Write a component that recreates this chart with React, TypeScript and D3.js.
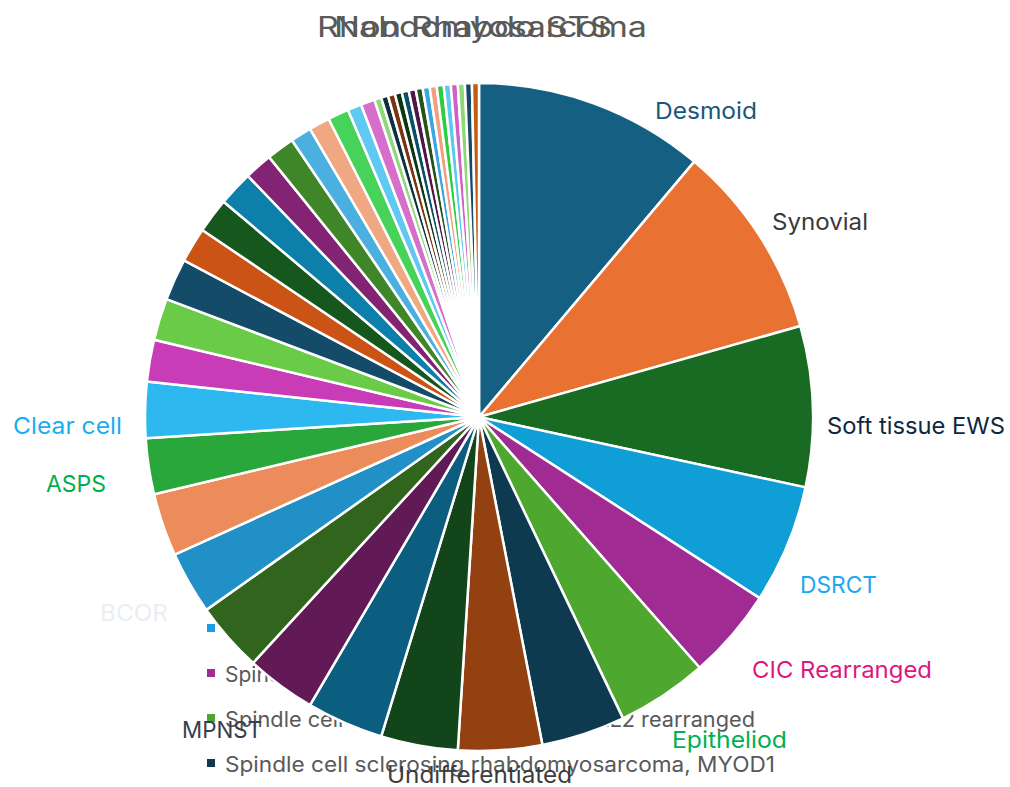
import React from 'react';
import * as d3 from 'd3';

// ---- data ----
const categories = [
  'Desmoid', 'Synovial', 'Soft tissue EWS', 'DSRCT', 'CIC Rearranged', 'Epitheliod',
  'Type 7', 'Undifferentiated', 'Type 9', 'MPNST', 'Type 11', 'Type 12',
  'BCOR', 'Type 14', 'ASPS', 'Clear cell', 'Type 17', 'Type 18',
  'Type 19', 'Type 20', 'Type 21', 'Type 22', 'Type 23', 'Type 24',
  'Type 25', 'Type 26', 'Type 27', 'Type 28', 'Type 29', 'Type 30',
  'Type 31', 'Type 32', 'Type 33', 'Type 34', 'Type 35', 'Type 36',
  'Type 37', 'Type 38', 'Type 39', 'Type 40', 'Type 41', 'Type 42',
  'Type 43', 'Type 44',
];
const values = [
  33, 28, 23, 17, 13, 13,
  12, 12, 11, 11, 10, 10,
  9, 9, 8, 8, 6, 6,
  6, 5, 5, 5, 4, 4,
  3, 3, 3, 2, 2, 1,
  1, 1, 1, 1, 1, 1,
  1, 1, 1, 1, 1, 1,
  1, 1,
];
const sliceColors = [
  '#156082', '#E97132', '#196B24', '#0F9ED5', '#A02B93', '#4EA72E',
  '#0E3A50', '#944112', '#12461A', '#0B5E80', '#611A56', '#31651D',
  '#2190C6', '#EC8C5A', '#2AA73A', '#2DB9EF', '#C83CB8', '#6ACB48',
  '#134B68', '#CC5316', '#16571E', '#0C7FAA', '#822374', '#3E8627',
  '#4BB0E0', '#F0A882', '#47D35A', '#5FC8F3', '#D56FCB', '#8FD87A',
  '#0B3041', '#7A3510', '#0D3612', '#084F6A', '#501649', '#27531A',
  '#3AA5E0', '#F0A080', '#2ECC40', '#5EC8F0', '#D060C8', '#8FD87A',
  '#164A66', '#C55A11',
];

const labelTexts = [
  'Desmoid', 'Synovial', 'Soft tissue EWS', 'DSRCT', 'CIC Rearranged', 'Epitheliod',
  'Undifferentiated', 'MPNST', 'BCOR', 'ASPS', 'Clear cell',
];
const labelColors = [
  '#17587C', '#3A3A3A', '#0E2841', '#1CA8F0', '#E0157F', '#00B050',
  '#3C3C3C', '#33404E', '#E9EEF2', '#00B050', '#1AADF0',
];

const legendNames = [
  'Spindle cell rhabdomyosarcoma',
  'Spindle cell rhabdomyosarcoma, NOS',
  'Spindle cell rhabdomyosarcoma, VGLL2 rearranged',
  'Spindle cell sclerosing rhabdomyosarcoma, MYOD1',
];
const legendColors = ['#1AA0E0', '#A02B93', '#4EA72E', '#0E3A50'];

const titles = ['Rhabdomyosarcoma', 'Non Rhabdo STS'];

// ---- layout ----
const W = 1010;
const H = 787;
const CX = 479;
const CY = 417;
const R = 334;
const FONT = 'Inter, "Open Sans", sans-serif';

// label placement: [x, baseline, width]
const labelLayout: [number, number, number][] = [
  [655, 119, 102], [772, 230, 96], [827, 434, 178], [800, 593, 77],
  [752, 678, 180], [672, 748, 115], [387, 783, 185], [182, 738, 80],
  [100, 621, 68], [46, 492, 60], [13, 434, 109],
];
const legendLayout: [number, number, number | null][] = [
  [225, 637, null], [225, 682, null], [225, 727, 530], [225, 772, 550],
];
const titleLayout: [number, number, number][] = [
  [317, 37, 330], [334, 37, 278],
];

export default function App() {
  const pie = d3.pie<number>().sort(null).value((d) => d);
  const arcs = pie(values);
  const arc = d3.arc<d3.PieArcDatum<number>>().innerRadius(0).outerRadius(R);

  return (
    <svg
      width={W}
      height={H}
      style={{ position: 'absolute', left: 0, top: 0, background: '#fff' }}
      fontFamily={FONT}
    >
      <rect width={W} height={H} fill="#fff" />
      {/* legend (behind the pie) */}
      <g>
        {legendNames.map((name, i) => {
          const [x, y, tl] = legendLayout[i];
          return (
            <g key={name}>
              <rect x={x - 18} y={y - 13} width={8} height={8} fill={legendColors[i]} />
              <text
                x={x}
                y={y}
                fontSize={21}
                fill="#595959"
                {...(tl ? { textLength: tl, lengthAdjust: 'spacingAndGlyphs' } : {})}
              >
                {name}
              </text>
            </g>
          );
        })}
      </g>
      {/* pie */}
      <g transform={`translate(${CX},${CY})`}>
        {arcs.map((a, i) => (
          <path
            key={categories[i]}
            d={arc(a) || ''}
            fill={sliceColors[i % sliceColors.length]}
            stroke="#fff"
            strokeWidth={2.5}
            strokeLinejoin="round"
          />
        ))}
      </g>
      {/* labels */}
      <g>
        {labelTexts.map((t, i) => {
          const [x, y, w] = labelLayout[i];
          return (
            <text
              key={t}
              x={x}
              y={y}
              fontSize={23}
              fill={labelColors[i]}
              textLength={w}
              lengthAdjust="spacingAndGlyphs"
            >
              {t}
            </text>
          );
        })}
      </g>
      {/* overlapping titles */}
      <g>
        {titles.map((t, i) => {
          const [x, y, w] = titleLayout[i];
          return (
            <text
              key={t}
              x={x}
              y={y}
              fontSize={28}
              fill="#595959"
              textLength={w}
              lengthAdjust="spacingAndGlyphs"
            >
              {t}
            </text>
          );
        })}
      </g>
    </svg>
  );
}
